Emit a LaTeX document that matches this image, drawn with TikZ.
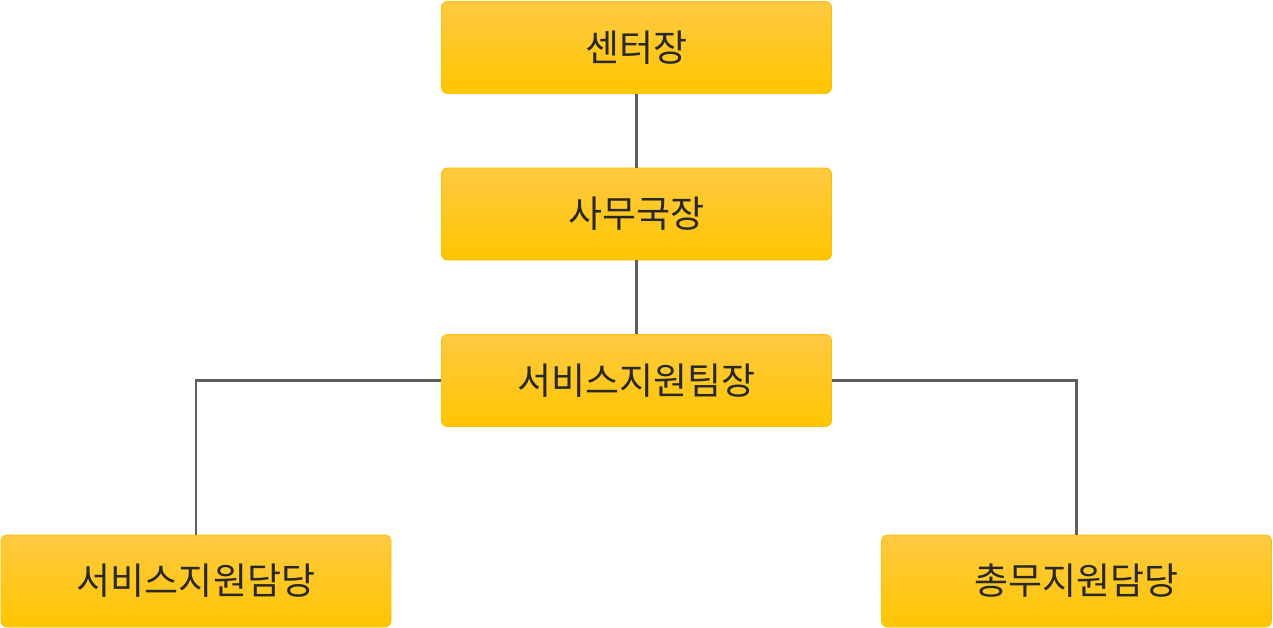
\documentclass[tikz,border=0pt]{standalone}
\usepackage{fontspec}
\newfontfamily\kr{Noto Sans CJK KR}
\definecolor{boxtop}{RGB}{255,201,66}
\definecolor{boxbot}{RGB}{255,198,0}
\definecolor{boxedge}{RGB}{246,193,0}
\definecolor{txt}{RGB}{40,40,40}
\definecolor{wire}{RGB}{95,95,95}
\tikzset{
  orgbox/.style={draw=boxedge, line width=0.8pt, rounded corners=6pt,
    top color=boxtop, bottom color=boxbot,
    minimum width=390pt, minimum height=92pt, inner sep=0pt,
    text=txt, font=\kr\fontsize{37}{42}\selectfont},
  wireline/.style={draw=wire, line width=2.5pt}
}
\begin{document}
\begin{tikzpicture}[x=1pt,y=-1pt]
\useasboundingbox (0,0) rectangle (1273,628);
\node[orgbox] (ceo) at (636.5,47.5) {센터장};
\node[orgbox] (sec) at (636.5,214) {사무국장};
\node[orgbox] (team) at (636.5,380.5) {서비스지원팀장};
\node[orgbox] (svc) at (196,581) {서비스지원담당};
\node[orgbox] (gen) at (1076.5,581) {총무지원담당};
\draw[wireline] (ceo.south) -- (sec.north);
\draw[wireline] (sec.south) -- (team.north);
\draw[wireline] (team.west) -| (svc.north);
\draw[wireline] (team.east) -| (gen.north);
\end{tikzpicture}
\end{document}
